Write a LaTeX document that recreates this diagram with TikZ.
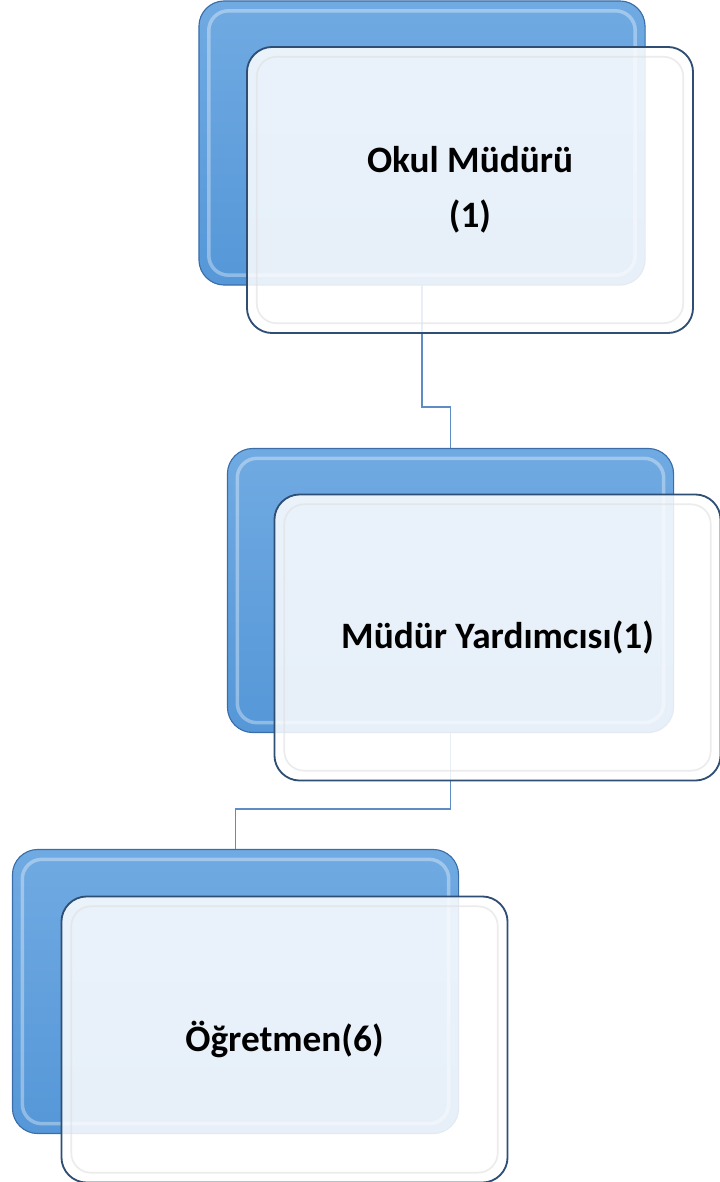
\documentclass[tikz,border=0pt]{standalone}
\usepackage{fontspec}
\setmainfont{Carlito}
\usetikzlibrary{positioning, calc}
\definecolor{blueTop}{HTML}{70AAE2}
\definecolor{blueBot}{HTML}{5597D8}
\definecolor{boxEdge}{HTML}{3B6EA8}
\definecolor{frontEdge}{HTML}{2E4E74}
\definecolor{linkBlue}{HTML}{5E8DC3}

\begin{document}
\begin{tikzpicture}[x=0.025cm, y=-0.025cm,
  font=\bfseries\fontsize{26.5}{39}\selectfont,
  back/.style={rounded corners=18pt, minimum width=11.15cm, minimum height=7.1cm, outer sep=0pt,
    draw=boxEdge, line width=0.8pt, top color=blueTop, bottom color=blueBot,
    path picture={\draw[white, opacity=0.35, line width=2.5pt, rounded corners=14pt]
      ([shift={(7pt,-7pt)}]path picture bounding box.north west) rectangle
      ([shift={(-7pt,7pt)}]path picture bounding box.south east);}},
  front/.style={rounded corners=18pt, minimum width=11.15cm, minimum height=7.15cm, outer sep=0pt,
    draw=frontEdge, line width=1.3pt, fill=white, fill opacity=0.86, text opacity=1, align=center,
    path picture={\draw[black!12, opacity=0.6, line width=1.2pt, rounded corners=14pt]
      ([shift={(7pt,-7pt)}]path picture bounding box.north west) rectangle
      ([shift={(-7pt,7pt)}]path picture bounding box.south east);}},
  link/.style={draw=linkBlue, line width=1.4pt}]
  \useasboundingbox (0,0) rectangle (720,1182);
  % back boxes
  \node[back] (omb) at (422,143) {};
  \node[back] (myb) at (450.5,590.5) {};
  \node[back] (ogb) at (235.5,991.5) {};
  % connectors
  \draw[link] (omb.south) -- ++(0,122) -| (myb.north);
  \draw[link] (myb.south) -- ++(0,76) -| (ogb.north);
  % front boxes
  \node[front] (om) at ($(omb.center)+(48,47)$) {Okul Müdürü\\(1)};
  \node[front] (my) at ($(myb.center)+(47,47)$) {Müdür Yardımcısı(1)};
  \node[front] (og) at ($(ogb.center)+(49,48)$) {Öğretmen(6)};
\end{tikzpicture}
\end{document}
